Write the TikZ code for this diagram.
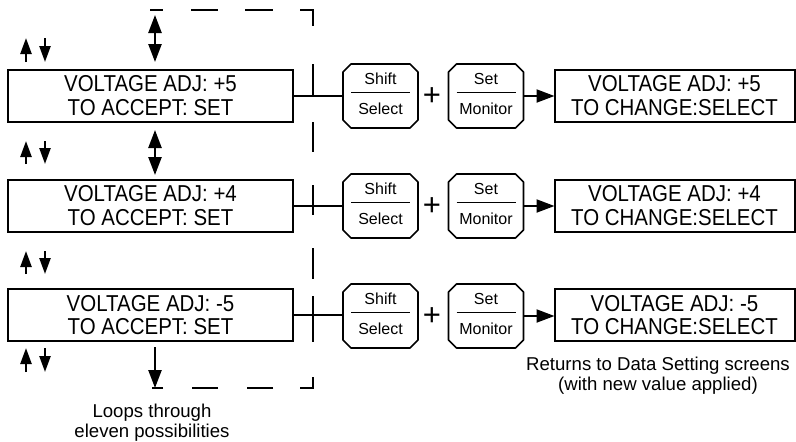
\documentclass[tikz,border=0pt]{standalone}
\usepackage{fontspec}
\setmainfont{Liberation Sans}
\newfontfamily\boxfont{Liberation Sans}[FakeStretch=0.89]
\usetikzlibrary{arrows.meta,calc}
\tikzset{
  every node/.style={inner sep=0pt, outer sep=0pt},
  screen/.style={draw, line width=2pt, minimum height=52pt, align=center,
    font=\boxfont\fontsize{23}{23.3}\selectfont},
  leftscreen/.style={screen, minimum width=285pt},
  rightscreen/.style={screen, minimum width=240pt},
  keyshape/.style={minimum width=75pt, minimum height=64pt},
  keyborder/.style={line width=1.6pt, line join=round},
  keytext/.style={font=\fontsize{16}{19}\selectfont},
  conn/.style={line width=2pt},
  flowarrow/.style={line width=2pt, -{Triangle[length=18pt,width=13pt]}},
  bigdbl/.style={line width=2.4pt, {Triangle[length=18pt,width=13pt]}-{Triangle[length=18pt,width=13pt]}},
  bigdown/.style={line width=2.4pt, -{Triangle[length=18pt,width=13pt]}},
  smallarrow/.style={line width=2.4pt, -{Triangle[length=16pt,width=11pt]}},
  loopline/.style={line width=2pt, dash pattern=on 13pt off 28pt on 27pt off 27pt on 28pt off 27pt on 29pt off 38pt on 32pt off 26pt on 30pt off 33pt on 30pt off 33pt on 31pt off 17pt on 46pt off 35pt on 24pt off 27pt on 26pt off 29pt on 26pt off 29pt on 11pt off 60pt},
  caption/.style={font=\fontsize{18.6}{20}\selectfont, align=center},
  plussign/.style={font=\fontsize{31}{31}\selectfont},
}
\newcommand\keybtn[5]{%
  \node[keyshape] (#1) at (#2,#3) {};
  \draw[keyborder] ([xshift=8pt]#1.north west) -- ([xshift=-8pt]#1.north east)
    -- ([yshift=-8pt]#1.north east) -- ([yshift=8pt]#1.south east)
    -- ([xshift=-8pt]#1.south east) -- ([xshift=8pt]#1.south west)
    -- ([yshift=8pt]#1.south west) -- ([yshift=-8pt]#1.north west) -- cycle;
  \draw[keyborder] ([xshift=-29.5pt,yshift=3.7pt]#1.center) -- ([xshift=29.5pt,yshift=3.7pt]#1.center);
  \node[keytext] (#1-top) at ([yshift=17pt]#1.center) {#4};
  \node[keytext] (#1-bot) at ([yshift=-12.5pt]#1.center) {#5};
}
\begin{document}
\begin{tikzpicture}[x=1pt,y=-1pt]
\useasboundingbox (0,0) rectangle (796,442);

% left screens
\node[leftscreen] (b1) at (150.5,95.5) {VOLTAGE ADJ: +5\\TO ACCEPT: SET};
\node[leftscreen] (b2) at (150.5,205.5) {VOLTAGE ADJ: +4\\TO ACCEPT: SET};
\node[leftscreen] (b3) at (150.5,315) {VOLTAGE ADJ: -5\\TO ACCEPT: SET};

% right screens
\node[rightscreen] (r1) at (674.5,95.5) {VOLTAGE ADJ: +5\\TO CHANGE:SELECT};
\node[rightscreen] (r2) at (674.5,205.5) {VOLTAGE ADJ: +4\\TO CHANGE:SELECT};
\node[rightscreen] (r3) at (674.5,315) {VOLTAGE ADJ: -5\\TO CHANGE:SELECT};

% keys
\keybtn{s1}{380.5}{96}{Shift}{Select}
\keybtn{m1}{486}{96}{Set}{Monitor}
\keybtn{s2}{380.5}{206}{Shift}{Select}
\keybtn{m2}{486}{206}{Set}{Monitor}
\keybtn{s3}{380.5}{316}{Shift}{Select}
\keybtn{m3}{486}{316}{Set}{Monitor}

% plus signs
\node[plussign, anchor=base] (p1) at (432,105) {+};
\node[plussign, anchor=base] (p2) at (432,215) {+};
\node[plussign, anchor=base] (p3) at (432,325) {+};

% connectors
\foreach \i in {1,2,3} {
  \draw[conn] (b\i.east) -- (b\i.east -| s\i.west);
  \draw[flowarrow] (m\i.east) -- (m\i.east -| r\i.west);
}

% dashed loop
\coordinate (lt) at (150,10);
\coordinate (lc1) at (313,10);
\coordinate (lc2) at (313,388);
\coordinate (lb) at (152,388);
\draw[loopline] (lt) -- (lc1) -- (lc2) -- (lb);

% big arrows
\coordinate (a1t) at (155,15);
\coordinate (a1b) at (155,62);
\coordinate (a2t) at (155,130);
\coordinate (a2b) at (155,175);
\coordinate (a3s) at (155,347);
\coordinate (a3e) at (155,388);
\draw[bigdbl] (a1t) -- (a1b);
\draw[bigdbl] (a2t) -- (a2b);
\draw[bigdown] (a3s) -- (a3e);

% small up/down arrow pairs
\foreach \i/\t/\b in {1/38/62, 2/141/164, 3/251/274, 4/348/372} {
  \coordinate (up\i s) at (26,\b);
  \coordinate (up\i e) at (26,\t);
  \coordinate (dn\i s) at (45,\t);
  \coordinate (dn\i e) at (45,\b);
  \draw[smallarrow] (up\i s) -- (up\i e);
  \draw[smallarrow] (dn\i s) -- (dn\i e);
}

% captions
\node[caption, anchor=north] (loopnote) at (152,404) {Loops through\\eleven possibilities};
\node[caption, anchor=north] (retnote) at (658,357) {Returns to Data Setting screens\\(with new value applied)};
\end{tikzpicture}
\end{document}
